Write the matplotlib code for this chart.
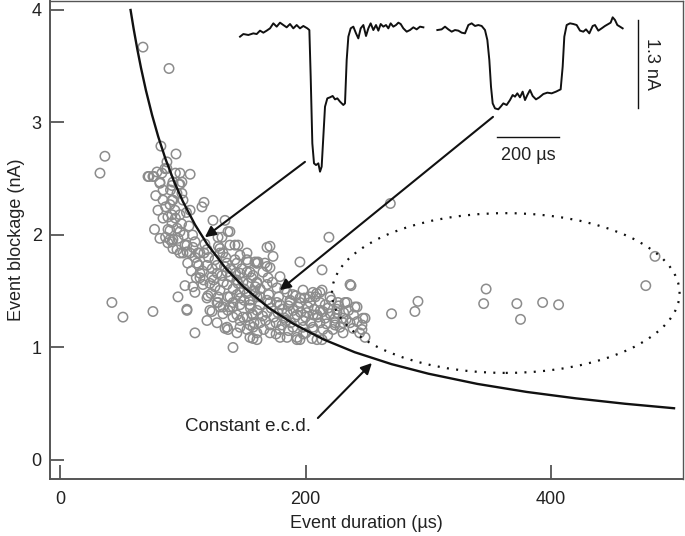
import matplotlib
matplotlib.use("Agg")
import matplotlib.pyplot as plt
from matplotlib.patches import Ellipse

plt.rcParams['font.family'] = ['Liberation Sans', 'DejaVu Sans']

# ---------------- data ----------------
duration = [32.6, 36.6, 67.6, 88.8, 42.3, 51.3, 75.7, 96.1, 103.4, 109.9, 140.9,
            237, 270, 289, 291.5, 345, 347, 372, 375, 393, 406, 477, 484.5, 269, 219,
            195.4, 213.4, 171, 173.5,
            82.2, 94.5, 87.1, 72.5, 75.7, 79, 83, 85.5, 81.4, 97.7, 106, 91.2, 96.9, 95.3,
            91.2, 100.2, 89.6, 79.8, 93.6, 87.9, 97.7, 83.9, 91.2, 95.3, 89.6, 81.4, 89.6,
            96.1, 92, 101.8, 97.7, 103.4,
            117.3, 115.6, 106, 124.6, 134.4, 138.4, 92, 131.9, 130.3, 114, 160.4, 153.1,
            168.6, 142.5, 99.3, 87.1, 71.7, 76.5, 81.4, 92, 97.7, 99.3, 92, 83.9,
            108.3, 120.5, 122.1, 134.4,
            91.2, 97.7, 91.2, 87.9, 95.3, 103.4, 109.9, 105.9, 112.4, 119.7, 128.7, 136.8,
            138.4, 130.3, 145, 146.6, 111.6, 119.7, 127.9, 136, 144.1, 152.3, 158.8, 114,
            123.8, 131.9, 138.4, 146.6, 154.7, 116.4, 126.2, 136, 145, 153.1, 160.4, 128.7,
            136.8, 144.1, 152.3, 158.8, 130.3, 138.4, 146.6, 154.7, 140.9, 149, 157.2,
            146.6, 154.7, 160.4,
            161.2, 166.9, 157.2, 165.3, 169.4, 179.2, 233.7, 241.9, 246.7, 245.9, 248.4,
            160.4, 168.6, 176.7, 184.9, 189.7, 197.9, 206, 213.4, 219.9, 226.4, 160.4, 168.6,
            176.7, 187.3, 195.4, 203.6, 211.7, 218.2, 225.6, 160.4, 168.6, 177.5, 184.9, 193,
            201.1, 209.3, 215.8, 223.9, 230.5, 162.9, 171, 180.8, 189.7, 197.9, 206, 214.2,
            222.3, 230.5, 179.2, 193, 205.2, 213.4,
            236.2, 232.1, 240.2, 248.4, 245.9, 225.6, 230.5, 236.2, 238.6, 223.9, 211.7, 206,
            209.3, 103.4, 123.8, 132.7, 152.3, 157.2, 160.4, 171, 179.2, 184.9, 193, 191.4,
            171, 160.4, 152.3, 142.5, 132.7, 126.2, 117.3, 108.3, 100.2, 168.6, 136, 144.1,
            152.3, 114, 122.1, 130.3, 138.4, 146.6, 154.7, 162.9, 171, 179.2, 187.3, 195.4,
            203.6, 211.7, 101.8, 109.9, 119.7, 128.7, 136.8, 144.1, 167.4, 175.9, 184.1, 197.9,
            206, 214.2, 195.4, 200.3, 136.8, 127.9, 119.7, 144.1, 154.7,
            136, 127.9, 132.7, 140.9, 146.6, 152.3, 157.2, 156.4,
            150, 155, 158, 163, 165, 170, 172, 174, 178, 181, 183, 186, 188, 190, 192, 194,
            196, 199, 200, 202, 204, 207, 208, 210, 212, 216, 217, 220, 221, 224, 227, 228,
            231, 233, 235, 239, 242, 244, 186, 176, 166, 158, 198, 218, 209, 183, 173, 163,
            104, 107, 110, 113, 116, 118, 121, 124, 125, 128, 129, 133, 134, 135, 139, 141,
            143, 148, 149, 150, 156, 159, 123, 117, 111, 147, 141,
            78, 84, 86, 88, 90, 94, 99, 101, 103, 86, 94, 77, 105, 108]
blockage = [2.55, 2.70, 3.67, 3.48, 1.40, 1.27, 1.32, 1.45, 1.34, 1.13, 1.00,
            1.55, 1.30, 1.32, 1.41, 1.39, 1.52, 1.39, 1.25, 1.40, 1.38, 1.55, 1.81, 2.28, 1.98,
            1.76, 1.69, 1.90, 1.81,
            2.79, 2.72, 2.65, 2.52, 2.52, 2.56, 2.55, 2.59, 2.46, 2.55, 2.54, 2.44, 2.45, 2.37,
            2.31, 2.31, 2.27, 2.22, 2.22, 2.16, 2.18, 2.15, 2.11, 2.06, 2.04, 1.97, 1.96,
            1.97, 1.88, 1.91, 1.84, 1.85,
            2.29, 2.25, 2.22, 2.13, 2.13, 2.03, 1.96, 1.98, 1.88, 1.84, 1.75, 1.76,
            1.72, 1.91, 2.47, 2.59, 2.52, 2.52, 2.47, 2.47, 2.45, 2.37, 2.31, 2.31,
            1.54, 1.46, 1.33, 1.17,
            2.18, 2.03, 1.94, 1.93, 1.87, 1.91, 1.94, 1.84, 1.84, 1.87, 1.98, 2.03,
            1.91, 1.84, 1.91, 1.82, 1.75, 1.73, 1.73, 1.75, 1.75, 1.78, 1.76, 1.66,
            1.63, 1.64, 1.63, 1.66, 1.67, 1.56, 1.54, 1.56, 1.57, 1.57, 1.58, 1.45,
            1.45, 1.47, 1.48, 1.48, 1.36, 1.36, 1.38, 1.38, 1.27, 1.27, 1.29,
            1.18, 1.20, 1.13,
            1.76, 1.75, 1.64, 1.67, 1.62, 1.63, 1.40, 1.36, 1.26, 1.16, 1.09,
            1.57, 1.56, 1.53, 1.49, 1.47, 1.51, 1.49, 1.51, 1.45, 1.40, 1.45, 1.42,
            1.40, 1.40, 1.40, 1.40, 1.40, 1.35, 1.31, 1.33, 1.31, 1.31, 1.31, 1.29,
            1.31, 1.29, 1.26, 1.22, 1.22, 1.22, 1.20, 1.20, 1.18, 1.18, 1.18, 1.16,
            1.16, 1.13, 1.09, 1.07, 1.08, 1.07,
            1.56, 1.40, 1.36, 1.26, 1.20, 1.34, 1.26, 1.22, 1.17, 1.20, 1.22, 1.16,
            1.07, 1.33, 1.32, 1.36, 1.27, 1.18, 1.07, 1.13, 1.16, 1.09, 1.09, 1.27,
            1.71, 1.75, 1.84, 1.78, 1.84, 1.78, 1.84, 1.89, 1.84, 1.89, 1.67, 1.60,
            1.67, 1.62, 1.57, 1.51, 1.45, 1.49, 1.42, 1.45, 1.40, 1.38, 1.42, 1.44,
            1.45, 1.49, 1.55, 1.49, 1.44, 1.40, 1.33, 1.29, 1.24, 1.22, 1.24, 1.24,
            1.29, 1.32, 1.07, 1.13, 1.16, 1.22, 1.24, 1.13, 1.09,
            1.18, 1.40, 1.30, 1.36, 1.24, 1.16, 1.08, 1.30,
            1.42, 1.35, 1.50, 1.38, 1.28, 1.47, 1.35, 1.27, 1.45, 1.34, 1.26, 1.37, 1.22,
            1.33, 1.46, 1.36, 1.31, 1.44, 1.27, 1.36, 1.22, 1.34, 1.45, 1.27, 1.33, 1.38,
            1.21, 1.30, 1.42, 1.26, 1.37, 1.18, 1.31, 1.25, 1.33, 1.29, 1.23, 1.13, 1.15,
            1.12, 1.16, 1.22, 1.12, 1.11, 1.48, 1.52, 1.58, 1.52,
            1.75, 1.68, 1.80, 1.73, 1.68, 1.92, 1.80, 1.70, 1.60, 1.66, 1.90, 1.58, 1.72,
            1.80, 1.70, 1.52, 1.66, 1.70, 1.58, 1.52, 1.62, 1.54, 1.48, 1.60, 1.62, 1.44,
            1.40,
            2.35, 2.40, 2.25, 2.05, 2.40, 2.15, 2.10, 2.00, 2.20, 1.98, 2.55, 2.05, 2.08,
            2.00]

# constant e.c.d. curve
ecd_duration = [57.5, 60, 63, 66, 70, 75, 80, 86, 93, 100, 110, 120, 135, 150, 170,
                190, 215, 240, 270, 300, 340, 380, 420, 460, 500]
ecd_blockage = [4.00, 3.833, 3.651, 3.485, 3.286, 3.067, 2.875, 2.674, 2.473, 2.300,
                2.091, 1.917, 1.704, 1.533, 1.353, 1.211, 1.070, 0.958, 0.852, 0.767,
                0.676, 0.605, 0.548, 0.500, 0.460]

# example current traces (time in µs, current change in nA)
trace1_t = [0, 10.8, 26.9, 43, 53.8, 64.5, 75.3, 86, 96.8, 107.5, 118.3, 129, 139.8,
            150.5, 161.3, 172, 182.8, 193.5, 204.3, 217.2, 223.7, 228, 233.3, 238.7,
            245.2, 252.7, 258.1, 263.4, 268.8, 274.2, 281.7, 290.3, 298.9, 306.5, 314,
            322.6, 333.3, 338.7, 344.1, 349.5, 357, 365.6, 374.2, 381.7, 389.3, 397.9,
            406.5, 414, 421.5, 430.1, 438.7, 446.3, 453.8, 462.4, 471, 478.5, 486, 494.6,
            503.2, 510.8, 518.3, 526.9, 537.7, 548.4, 559.2, 569.9, 580.7, 591.5]
trace1_i = [-0.128, -0.089, -0.103, -0.079, -0.089, -0.039, -0.069, -0.039, -0.005,
            0.069, 0.020, 0.079, 0.044, 0.010, 0.059, -0.005, 0.044, -0.005, 0.030,
            -0.005, -0.030, -0.719, -1.704, -1.999, -2.024, -1.999, -2.122, -2.048,
            -1.605, -1.162, -1.039, -1.024, -1.004, -1.054, -1.039, -1.088, -1.137,
            -1.113, -0.473, -0.128, -0.005, 0.020, -0.079, -0.153, -0.005, 0.044,
            -0.118, -0.005, 0.069, -0.030, 0.044, -0.039, 0.059, 0.020, 0.044, -0.005,
            0.069, 0.020, 0.044, 0.079, 0.059, -0.005, -0.054, -0.030, 0.010, -0.020,
            0.020, 0.010]
trace2_t = [636.6, 650.5, 661.3, 672.0, 682.8, 693.5, 704.3, 715.1, 725.8, 736.6,
            747.3, 758.1, 768.8, 779.6, 790.3, 797.9, 804.3, 809.7, 815.1, 822.6, 833.3,
            840.9, 849.5, 860.2, 871.0, 879.6, 887.1, 894.6, 903.2, 911.8, 919.4, 926.9,
            935.5, 944.1, 954.8, 965.6, 978.5, 991.4, 1005.4, 1019.4, 1034.4, 1040.9,
            1046.2, 1053.8, 1064.5, 1075.3, 1086.0, 1096.8, 1107.5, 1116.1, 1126.9,
            1137.7, 1145.2, 1155.9, 1166.7, 1177.4, 1188.2, 1195.7, 1202.2, 1209.7,
            1217.2, 1225.8, 1234.4]
trace2_i = [-0.030, -0.020, 0.020, -0.020, -0.054, -0.030, -0.039, -0.069, -0.079,
            0.044, 0.069, 0.030, 0.044, 0.030, -0.030, -0.177, -0.473, -0.867, -1.113,
            -1.187, -1.201, -1.162, -1.113, -1.137, -1.064, -0.990, -1.014, -0.965,
            -1.024, -0.940, -1.064, -0.990, -0.916, -1.004, -1.054, -1.024, -0.975,
            -0.955, -0.965, -0.940, -0.906, -0.571, -0.128, 0.044, 0.069, 0.059, 0.044,
            -0.039, -0.054, -0.020, -0.079, 0.030, 0.044, -0.039, -0.005, 0.030, 0.059,
            0.079, 0.158, 0.118, 0.044, 0.020, -0.005]

x_ticks = [0, 200, 400]
y_ticks = [0, 1, 2, 3, 4]

# ---------------- figure ----------------
W, H = 685, 536
fig = plt.figure(figsize=(W / 100, H / 100), dpi=100)
ax = fig.add_axes([50 / W, 1 - 479 / H, 633 / W, 478 / H])

spine_col = '#555555'
text_col = '#222222'
fs = 13

ax.scatter(duration, blockage, s=46, facecolors='none', edgecolors='#8c8c8c',
           linewidths=1.1, zorder=2)
ax.plot(ecd_duration, ecd_blockage, color='#111111', lw=1.7, zorder=3)

ell = Ellipse((363, 1.484), width=283, height=1.42, fill=False, edgecolor='#111111',
              lw=1.6, linestyle=(0, (0.9, 3.3)), zorder=3)
ax.add_patch(ell)

arrow_kw = dict(arrowstyle='-|>', color='#111111', lw=1.5, mutation_scale=16,
                shrinkA=0, shrinkB=0)
ax.annotate('', xy=(118, 1.98), xytext=(199.5, 2.65), arrowprops=arrow_kw, zorder=4)
ax.annotate('', xy=(179, 1.51), xytext=(352.6, 3.05), arrowprops=arrow_kw, zorder=4)
ax.annotate('', xy=(254, 0.862), xytext=(210, 0.373), arrowprops=arrow_kw, zorder=4)
ax.text(153, 0.30, 'Constant e.c.d.', ha='center', va='center', fontsize=13.5,
        color=text_col)

ax.set_xlim(-8.1, 507.3)
ax.set_ylim(-0.169, 4.08)
ax.set_xticks(x_ticks)
ax.set_yticks(y_ticks)
ax.tick_params(direction='in', length=10, width=1.3, color=spine_col,
               labelsize=fs, labelcolor=text_col)
ax.tick_params(axis='x', pad=9)
ax.tick_params(axis='y', pad=6)
for side, sp in ax.spines.items():
    sp.set_color(spine_col)
    sp.set_linewidth(1.4 if side in ('left', 'bottom') else 1.0)
ax.set_xlabel('Event duration (µs)', fontsize=fs, color=text_col, labelpad=5)
ax.set_ylabel('Event blockage (nA)', fontsize=fs, color=text_col, labelpad=5)

# inset with current traces
ins = fig.add_axes([230 / W, 1 - 180 / H, 450 / W, 170 / H])
ins.set_xlim(-32.3, 1419.4)
ins.set_ylim(-2.245, 0.266)
ins.axis('off')
ins.patch.set_alpha(0)
ins.plot(trace1_t, trace1_i, color='#111111', lw=1.4)
ins.plot(trace2_t, trace2_i, color='#111111', lw=1.4)
ins.plot([829, 1029], [-1.61, -1.61], color='#111111', lw=1.0)
ins.text(929, -1.876, '200 µs', ha='center', va='center', fontsize=fs, color=text_col)
ins.plot([1284, 1284], [0.118, 0.118 - 1.3], color='#111111', lw=1.0)
ins.text(1329, -0.532, '1.3 nA', ha='center', va='center', rotation=-90,
         fontsize=fs, color=text_col)

fig.savefig('out.png', dpi=100)
